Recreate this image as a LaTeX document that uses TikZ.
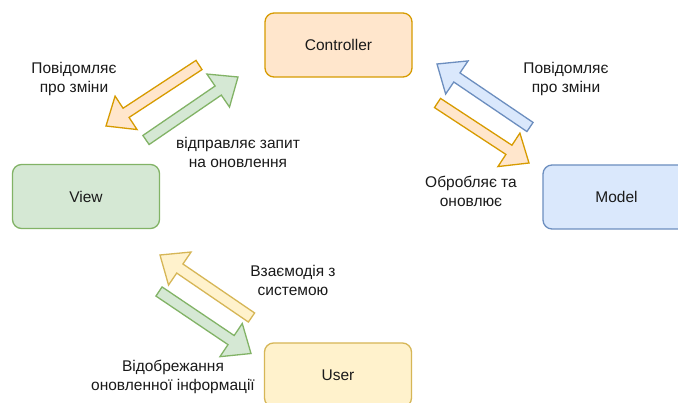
\documentclass[tikz,border=0pt]{standalone}
\usepackage{fontspec}
\setmainfont{Liberation Sans}
\usetikzlibrary{calc}

\definecolor{orangefill}{HTML}{FFE6CC}\definecolor{orangeline}{HTML}{D79B00}
\definecolor{greenfill}{HTML}{D5E8D4}\definecolor{greenline}{HTML}{82B366}
\definecolor{bluefill}{HTML}{DAE8FC}\definecolor{blueline}{HTML}{6C8EBF}
\definecolor{yellowfill}{HTML}{FFF2CC}\definecolor{yellowline}{HTML}{D6B656}
\definecolor{labeltext}{HTML}{1A1A1A}

% block arrow from #2 to #3 drawn with style #1
\newcommand\blockarrow[3]{%
  \coordinate (hb) at ($(#3)!24pt!(#2)$);
  \draw[#1] ($(#2)!5.5pt!90:(#3)$) -- ($(hb)!5.5pt!90:(#3)$) -- ($(hb)!20pt!90:(#3)$)
    -- (#3) -- ($(hb)!20pt!-90:(#3)$) -- ($(hb)!5.5pt!-90:(#3)$)
    -- ($(#2)!5.5pt!-90:(#3)$) -- cycle;
}

\tikzset{
  box/.style={draw, rounded corners=9pt, line width=1.3pt, minimum width=147pt,
    minimum height=64pt, text=labeltext, font=\fontsize{15.5}{18.5}\selectfont},
  lbl/.style={align=center, text=labeltext, font=\fontsize{15.5}{18.5}\selectfont, inner sep=0pt},
  arr/.style={line width=1.3pt, line join=miter},
  orangearrow/.style={arr, draw=orangeline, fill=orangefill},
  greenarrow/.style={arr, draw=greenline, fill=greenfill},
  bluearrow/.style={arr, draw=blueline, fill=bluefill},
  yellowarrow/.style={arr, draw=yellowline, fill=yellowfill},
}

\begin{document}
\begin{tikzpicture}[x=1pt, y=-1pt]
\useasboundingbox[fill=white] (0,0) rectangle (678,403);

% components
\node[box, draw=orangeline, fill=orangefill] (ctrl) at (338.5,45) {Controller};
\node[box, draw=greenline, fill=greenfill] (view) at (86,196.5) {View};
\node[box, draw=blueline, fill=bluefill] (model) at (616.5,197) {Model};
\node[box, draw=yellowline, fill=yellowfill] (user) at (338,375) {User};

% arrow end points
\coordinate (cv1) at (199,65);    \coordinate (cv2) at (106,126);
\coordinate (vc1) at (146,140);   \coordinate (vc2) at (238,77);
\coordinate (mc1) at (530,127);   \coordinate (mc2) at (437,64);
\coordinate (cm1) at (437.5,103); \coordinate (cm2) at (529,163);
\coordinate (uv1) at (251.5,317.5); \coordinate (uv2) at (160,255);
\coordinate (vu1) at (159,291.5); \coordinate (vu2) at (251,353.5);

\blockarrow{orangearrow}{cv1}{cv2}
\blockarrow{greenarrow}{vc1}{vc2}
\blockarrow{bluearrow}{mc1}{mc2}
\blockarrow{orangearrow}{cm1}{cm2}
\blockarrow{yellowarrow}{uv1}{uv2}
\blockarrow{greenarrow}{vu1}{vu2}

% labels
\node[lbl] (t1) at (74,79) {Повідомляє\\про зміни};
\node[lbl] (t2) at (238,152.5) {відправляє запит\\на оновлення};
\node[lbl] (t3) at (566,79) {Повідомляє\\про зміни};
\node[lbl] (t4) at (471,191.5) {Обробляє та\\оновлює};
\node[lbl] (t5) at (293,280.5) {Взаємодія з\\системою};
\node[lbl] (t6) at (173,377) {Відобрежання\\оновленної інформації};
\end{tikzpicture}
\end{document}
